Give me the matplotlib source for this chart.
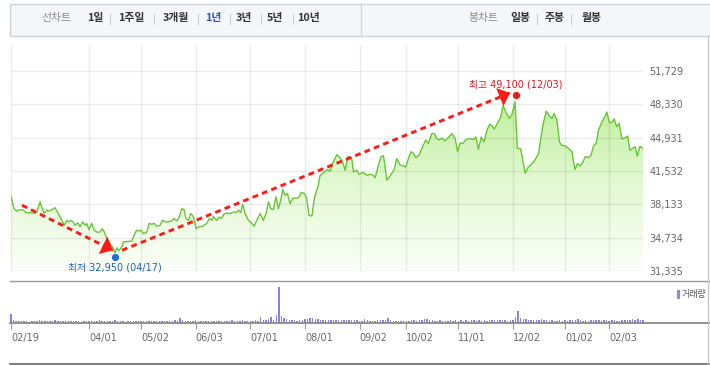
import numpy as np
import matplotlib
matplotlib.use('Agg')
import matplotlib.pyplot as plt
import matplotlib.transforms as mtransforms
from matplotlib.colors import LinearSegmentedColormap
from matplotlib.patches import Rectangle
from matplotlib.lines import Line2D

plt.rcParams['font.family'] = ['DejaVu Sans', 'Noto Sans CJK KR']

# closing price, vertices by trading-day index (0 = 02/19)
days = [0.0, 1.2, 2.2, 3.5, 4.7, 6.0, 7.3, 9.0, 9.9, 11.2, 12.0, 12.8, 13.7, 14.6, 15.9, 16.9,
        18.2, 19.5, 20.5, 21.4, 22.3, 23.1, 24.0, 24.6, 25.7, 26.5, 27.6, 28.5, 29.1, 30.0,
        31.0, 32.0, 33.0, 34.2, 35.1, 35.9, 36.8, 38.1, 39.0, 40.0, 40.7, 41.5, 42.6, 43.2,
        45.1, 46.4, 47.4, 48.3, 49.2, 50.0, 50.9, 52.2, 53.1, 54.1, 55.1, 56.0, 57.3, 58.3,
        59.6, 60.5, 61.8, 62.7, 63.7, 64.7, 65.7, 66.5, 67.3, 68.2, 69.1, 70.1, 71.2, 72.4,
        73.7, 75.3, 76.3, 77.2, 77.8, 79.1, 80.1, 81.0, 81.9, 83.0, 84.2, 85.5, 86.8, 87.4,
        88.3, 89.1, 90.0, 91.3, 92.6, 93.5, 94.5, 95.8, 97.0, 98.1, 99.0, 99.9, 100.9, 101.9,
        102.8, 103.7, 104.5, 105.4, 106.3, 107.3, 108.3, 109.9, 110.9, 111.5, 112.8, 113.7,
        114.6, 115.7, 116.7, 118.0, 118.8, 120.5, 121.8, 122.7, 123.6, 125.3, 126.5, 127.4,
        128.5, 129.5, 130.4, 131.0, 131.7, 133.0, 133.8, 135.5, 136.8, 138.1, 139.3, 140.0,
        141.3, 142.3, 143.2, 144.5, 145.8, 147.4, 148.3, 149.6, 150.9, 151.8, 152.8, 153.8,
        154.7, 155.7, 156.9, 158.2, 159.5, 160.5, 161.8, 162.8, 163.7, 164.6, 165.7, 166.7,
        168.2, 169.5, 170.8, 171.7, 172.7, 173.7, 175.0, 176.5, 177.8, 178.8, 179.7, 180.8,
        181.9, 183.0, 184.0, 184.9, 185.8, 187.0, 188.3, 189.2, 190.6, 191.7, 192.6, 193.8,
        194.7, 196.0, 197.7, 198.8, 200.9, 202.2, 202.9, 203.7, 204.5, 205.8, 207.0, 208.0,
        208.8, 209.9, 210.9, 211.8, 213.1, 214.3, 215.7, 216.3, 216.9, 217.8, 218.8, 219.9,
        220.8, 222.0, 223.0, 224.0, 225.0, 225.9, 227.2, 228.5, 229.1, 230.1, 231.2, 231.9,
        232.9, 233.8, 234.9, 236.3, 237.1, 238.0, 239.3, 240.0, 240.8, 241.8, 243.0]
prices = [38950, 37700, 37450, 37600, 37550, 37250, 37300, 37200, 37350, 38400, 37700, 37200,
          37550, 37450, 37600, 37800, 37200, 36500, 36000, 36500, 36350, 36500, 36300, 36000,
          36250, 35850, 36350, 36000, 36200, 35550, 36200, 35500, 35300, 35300, 35650, 35300,
          34650, 34150, 33800, 33200, 33700, 33400, 33800, 34300, 34350, 34400, 35000, 35500,
          35400, 35500, 35150, 35300, 36200, 36100, 36200, 35900, 36000, 36500, 36350, 36350,
          36450, 36700, 36450, 36850, 37700, 37600, 36700, 36500, 37200, 36900, 35650, 35850,
          35900, 36200, 36700, 36500, 36900, 36500, 36850, 36700, 37150, 37250, 37200, 37350,
          37350, 37550, 37300, 38150, 37200, 36500, 36200, 35900, 36500, 37200, 36500, 37200,
          38400, 37700, 37600, 38900, 37700, 38550, 39650, 39050, 39250, 38200, 38750, 38750,
          38900, 39350, 39250, 38750, 37000, 36950, 38900, 39900, 41050, 41450, 41700, 41500,
          42300, 43200, 42900, 42550, 41600, 43000, 43000, 42800, 41450, 41600, 41200, 41400,
          41100, 41200, 41100, 40850, 42150, 43000, 43100, 40600, 41050, 41700, 42800, 42150,
          42050, 41950, 42800, 43500, 43350, 42900, 43150, 44000, 44700, 44350, 45350, 45350,
          44850, 44700, 44900, 44600, 44950, 45350, 44850, 43500, 44400, 44350, 44750, 44850,
          44750, 45000, 43750, 45000, 44500, 45700, 46300, 46200, 45800, 46400, 47050, 48200,
          47350, 46900, 47300, 48600, 43850, 43800, 41300, 41900, 42450, 43000, 43350, 44900,
          46200, 47650, 47150, 46900, 47400, 46750, 44500, 44150, 44100, 43850, 43500, 42450,
          41700, 42300, 42050, 42450, 43000, 42900, 43150, 44100, 44350, 45700, 46550, 47150,
          47550, 46450, 46550, 46850, 46050, 46400, 44800, 44950, 45100, 43650, 43900, 44000,
          43050, 44050, 43850]

# daily volume (relative units), one bar per trading day
volume = [900, 300, 250, 250, 200, 200, 200, 150, 200, 200,
          200, 300, 250, 200, 200, 250, 200, 300, 200, 200,
          200, 250, 200, 200, 250, 200, 200, 150, 200, 200,
          250, 200, 200, 200, 300, 250, 250, 200, 200, 200,
          300, 250, 200, 200, 150, 200, 200, 200, 200, 250,
          200, 200, 250, 200, 200, 250, 200, 200, 250, 200,
          200, 200, 250, 300, 250, 500, 300, 200, 250, 200,
          250, 300, 250, 200, 200, 200, 200, 250, 200, 200,
          200, 250, 250, 200, 200, 300, 200, 250, 250, 300,
          250, 200, 250, 250, 300, 250, 600, 350, 300, 400,
          600, 300, 800, 3600, 700, 500, 400, 350, 300, 300,
          250, 300, 350, 450, 400, 550, 500, 450, 400, 350,
          350, 300, 300, 350, 350, 300, 350, 350, 300, 350,
          300, 300, 350, 300, 250, 200, 400, 300, 250, 250,
          250, 300, 350, 300, 350, 500, 300, 250, 250, 200,
          250, 200, 250, 250, 300, 300, 250, 300, 350, 400,
          400, 350, 300, 250, 250, 300, 250, 200, 250, 300,
          250, 300, 250, 300, 250, 300, 250, 350, 300, 250,
          300, 250, 300, 250, 300, 350, 300, 300, 350, 300,
          300, 250, 350, 300, 600, 1200, 500, 450, 400, 300,
          300, 350, 300, 300, 450, 350, 300, 250, 300, 250,
          250, 300, 250, 300, 250, 300, 300, 350, 400, 300,
          250, 300, 250, 300, 350, 300, 300, 250, 350, 300,
          250, 300, 300, 250, 250, 300, 350, 300, 300, 400,
          350, 400, 350, 350]

tick_days = [0, 30, 50, 71, 92, 113, 134, 152, 172, 193, 213, 230]
tick_labels = ['02/19', '04/01', '05/02', '06/03', '07/01', '08/01',
               '09/02', '10/02', '11/01', '12/02', '01/02', '02/03']
price_ticks = [31335, 34734, 38133, 41532, 44931, 48330, 51729]

low_day, low_price, low_date = 40, 32950, '04/17'
high_day, high_price, high_date = 194, 49100, '12/03'

# dashed trend arrows: (start day, start price) -> (end day, end price)
arrow_down = ((4.2, 38050), (39.2, 33450))
arrow_up = ((42.7, 33450), (191.9, 49500))

W, H = 710, 365
fig = plt.figure(figsize=(W / 100, H / 100), dpi=100)


def box(x0, y0, x1, y1):
    return [x0 / W, 1 - y1 / H, (x1 - x0) / W, (y1 - y0) / H]


def fx(x):
    return x / W


def fy(y):
    return 1 - y / H


# ---- top menu bar
fig.patches.append(Rectangle((fx(10), fy(36)), fx(712) - fx(10), fy(4) - fy(36),
                             transform=fig.transFigure, facecolor='#f4f6f9',
                             edgecolor='#cdd2d9', lw=1))
fig.lines.append(Line2D([fx(361), fx(361)], [fy(4), fy(36)], transform=fig.transFigure,
                        color='#d3d7dd', lw=1))
kfont = ['Noto Sans CJK KR', 'DejaVu Sans']
menu_left = [('선차트', 56, '#888888', 'normal'), ('1일', 95, '#333333', 'bold'),
             ('1주일', 131, '#333333', 'bold'), ('3개월', 175.5, '#333333', 'bold'),
             ('1년', 213, '#2c54c0', 'bold'), ('3년', 243.5, '#333333', 'bold'),
             ('5년', 274.5, '#333333', 'bold'), ('10년', 309, '#333333', 'bold'),
             ('봉차트', 483, '#888888', 'normal'), ('일봉', 520, '#333333', 'bold'),
             ('주봉', 555, '#333333', 'bold'), ('월봉', 592, '#333333', 'bold')]
for label, x, c, w in menu_left:
    fig.text(fx(x), fy(18.5), label, ha='center', va='center', fontsize=7.8,
             color=c, fontweight=w, family=kfont)
for x in [110, 154, 198, 229.5, 261, 293, 537, 571]:
    fig.lines.append(Line2D([fx(x), fx(x)], [fy(13.5), fy(23.5)], transform=fig.transFigure,
                            color='#cccccc', lw=0.8))

# ---- frame lines
for y, c, lw in [(281, '#9a9a9a', 1.0), (323, '#8a8a8a', 1.3), (364, '#666666', 1.2)]:
    fig.lines.append(Line2D([fx(10), fx(710)], [fy(y), fy(y)], transform=fig.transFigure,
                            color=c, lw=lw))
fig.lines.append(Line2D([fx(708), fx(708)], [fy(36), fy(365)], transform=fig.transFigure,
                        color='#c8c8c8', lw=1))

# ---- price chart
ax = fig.add_axes(box(11, 45, 643, 271))
ymin, ymax = 31335, 54390
poly = ax.fill_between(days, prices, ymin, facecolor='none', edgecolor='none')
cmap = LinearSegmentedColormap.from_list('g', ['#fbfff8', '#e2f8d2', '#bdee96'])
grad = np.linspace(0, 1, 256).reshape(-1, 1)
im = ax.imshow(grad, extent=[0, 243, ymin, 49500], origin='lower', aspect='auto',
               cmap=cmap, zorder=1)
im.set_clip_path(poly.get_paths()[0], transform=ax.transData)
ax.plot(days, prices, color='#66c634', lw=1.0, zorder=3)

ax.set_xlim(0, 243)
ax.set_ylim(ymin, ymax)
ax.set_xticks(tick_days)
ax.set_xticklabels([])
ax.set_yticks(price_ticks)
ax.set_yticklabels([f'{v:,}' for v in price_ticks])
ax.yaxis.tick_right()
ax.tick_params(axis='both', length=0)
ax.tick_params(axis='y', pad=4.5, labelsize=7, labelcolor='#666666')
ax.grid(True, color='black', alpha=0.075, lw=1, zorder=2)
ax.set_axisbelow(False)
for s in ax.spines.values():
    s.set_visible(False)
ax.patch.set_alpha(0)

dash = (0, (2.0, 1.45))
for (x0, y0), (x1, y1) in [arrow_down, arrow_up]:
    ax.plot([x0, x1], [y0, y1], color='#ff1a1a', lw=2.1, linestyle=dash,
            dash_capstyle='butt', zorder=4)
    ax.annotate('', xy=(x1, y1), xytext=(x0, y0),
                arrowprops=dict(arrowstyle='-|>,head_length=0.8,head_width=0.7',
                                color='#ff1a1a', lw=0, shrinkA=0, shrinkB=0,
                                mutation_scale=10), zorder=4)

up = mtransforms.offset_copy(ax.transData, fig=fig, x=0, y=1.6, units='points')
down = mtransforms.offset_copy(ax.transData, fig=fig, x=0, y=-1.6, units='points')
ax.plot([high_day], [high_price], 'o', color='#f01818', ms=5.2, mec='none',
        transform=up, zorder=5, clip_on=False)
ax.plot([low_day], [low_price], 'o', color='#1f6fd6', ms=5.2, mec='none',
        transform=down, zorder=5, clip_on=False)
ax.annotate(f'최고 {high_price:,} ({high_date})', xy=(high_day, high_price),
            xytext=(0, 8.8), textcoords='offset points', ha='center', va='center',
            fontsize=7, color='#e8141b', zorder=6)
ax.annotate(f'최저 {low_price:,} ({low_date})', xy=(low_day, low_price),
            xytext=(0, -8.6), textcoords='offset points', ha='center', va='center',
            fontsize=7, color='#1f5fc4', zorder=6)

# ---- volume chart
av = fig.add_axes(box(11, 283, 643, 323))
av.bar(range(len(volume)), volume, width=0.55, color='#8f7fda', clip_on=False)
av.set_xlim(0, 243)
av.set_ylim(0, 4000)
av.set_yticks([])
av.set_xticks(tick_days)
av.set_xticklabels(tick_labels, ha='left')
av.tick_params(axis='x', length=4, width=0.8, color='#999999', pad=3,
               labelsize=7, labelcolor='#666666')
for s in av.spines.values():
    s.set_visible(False)
av.patch.set_alpha(0)

fig.patches.append(Rectangle((fx(677), fy(299)), fx(2.5), fy(0) - fy(9),
                             transform=fig.transFigure, facecolor='#9484dc', edgecolor='none'))
fig.text(fx(681.5), fy(294.5), '거래량', ha='left', va='center', fontsize=6.5,
         color='#555555', family=kfont)

fig.savefig('out.png', dpi=100)
